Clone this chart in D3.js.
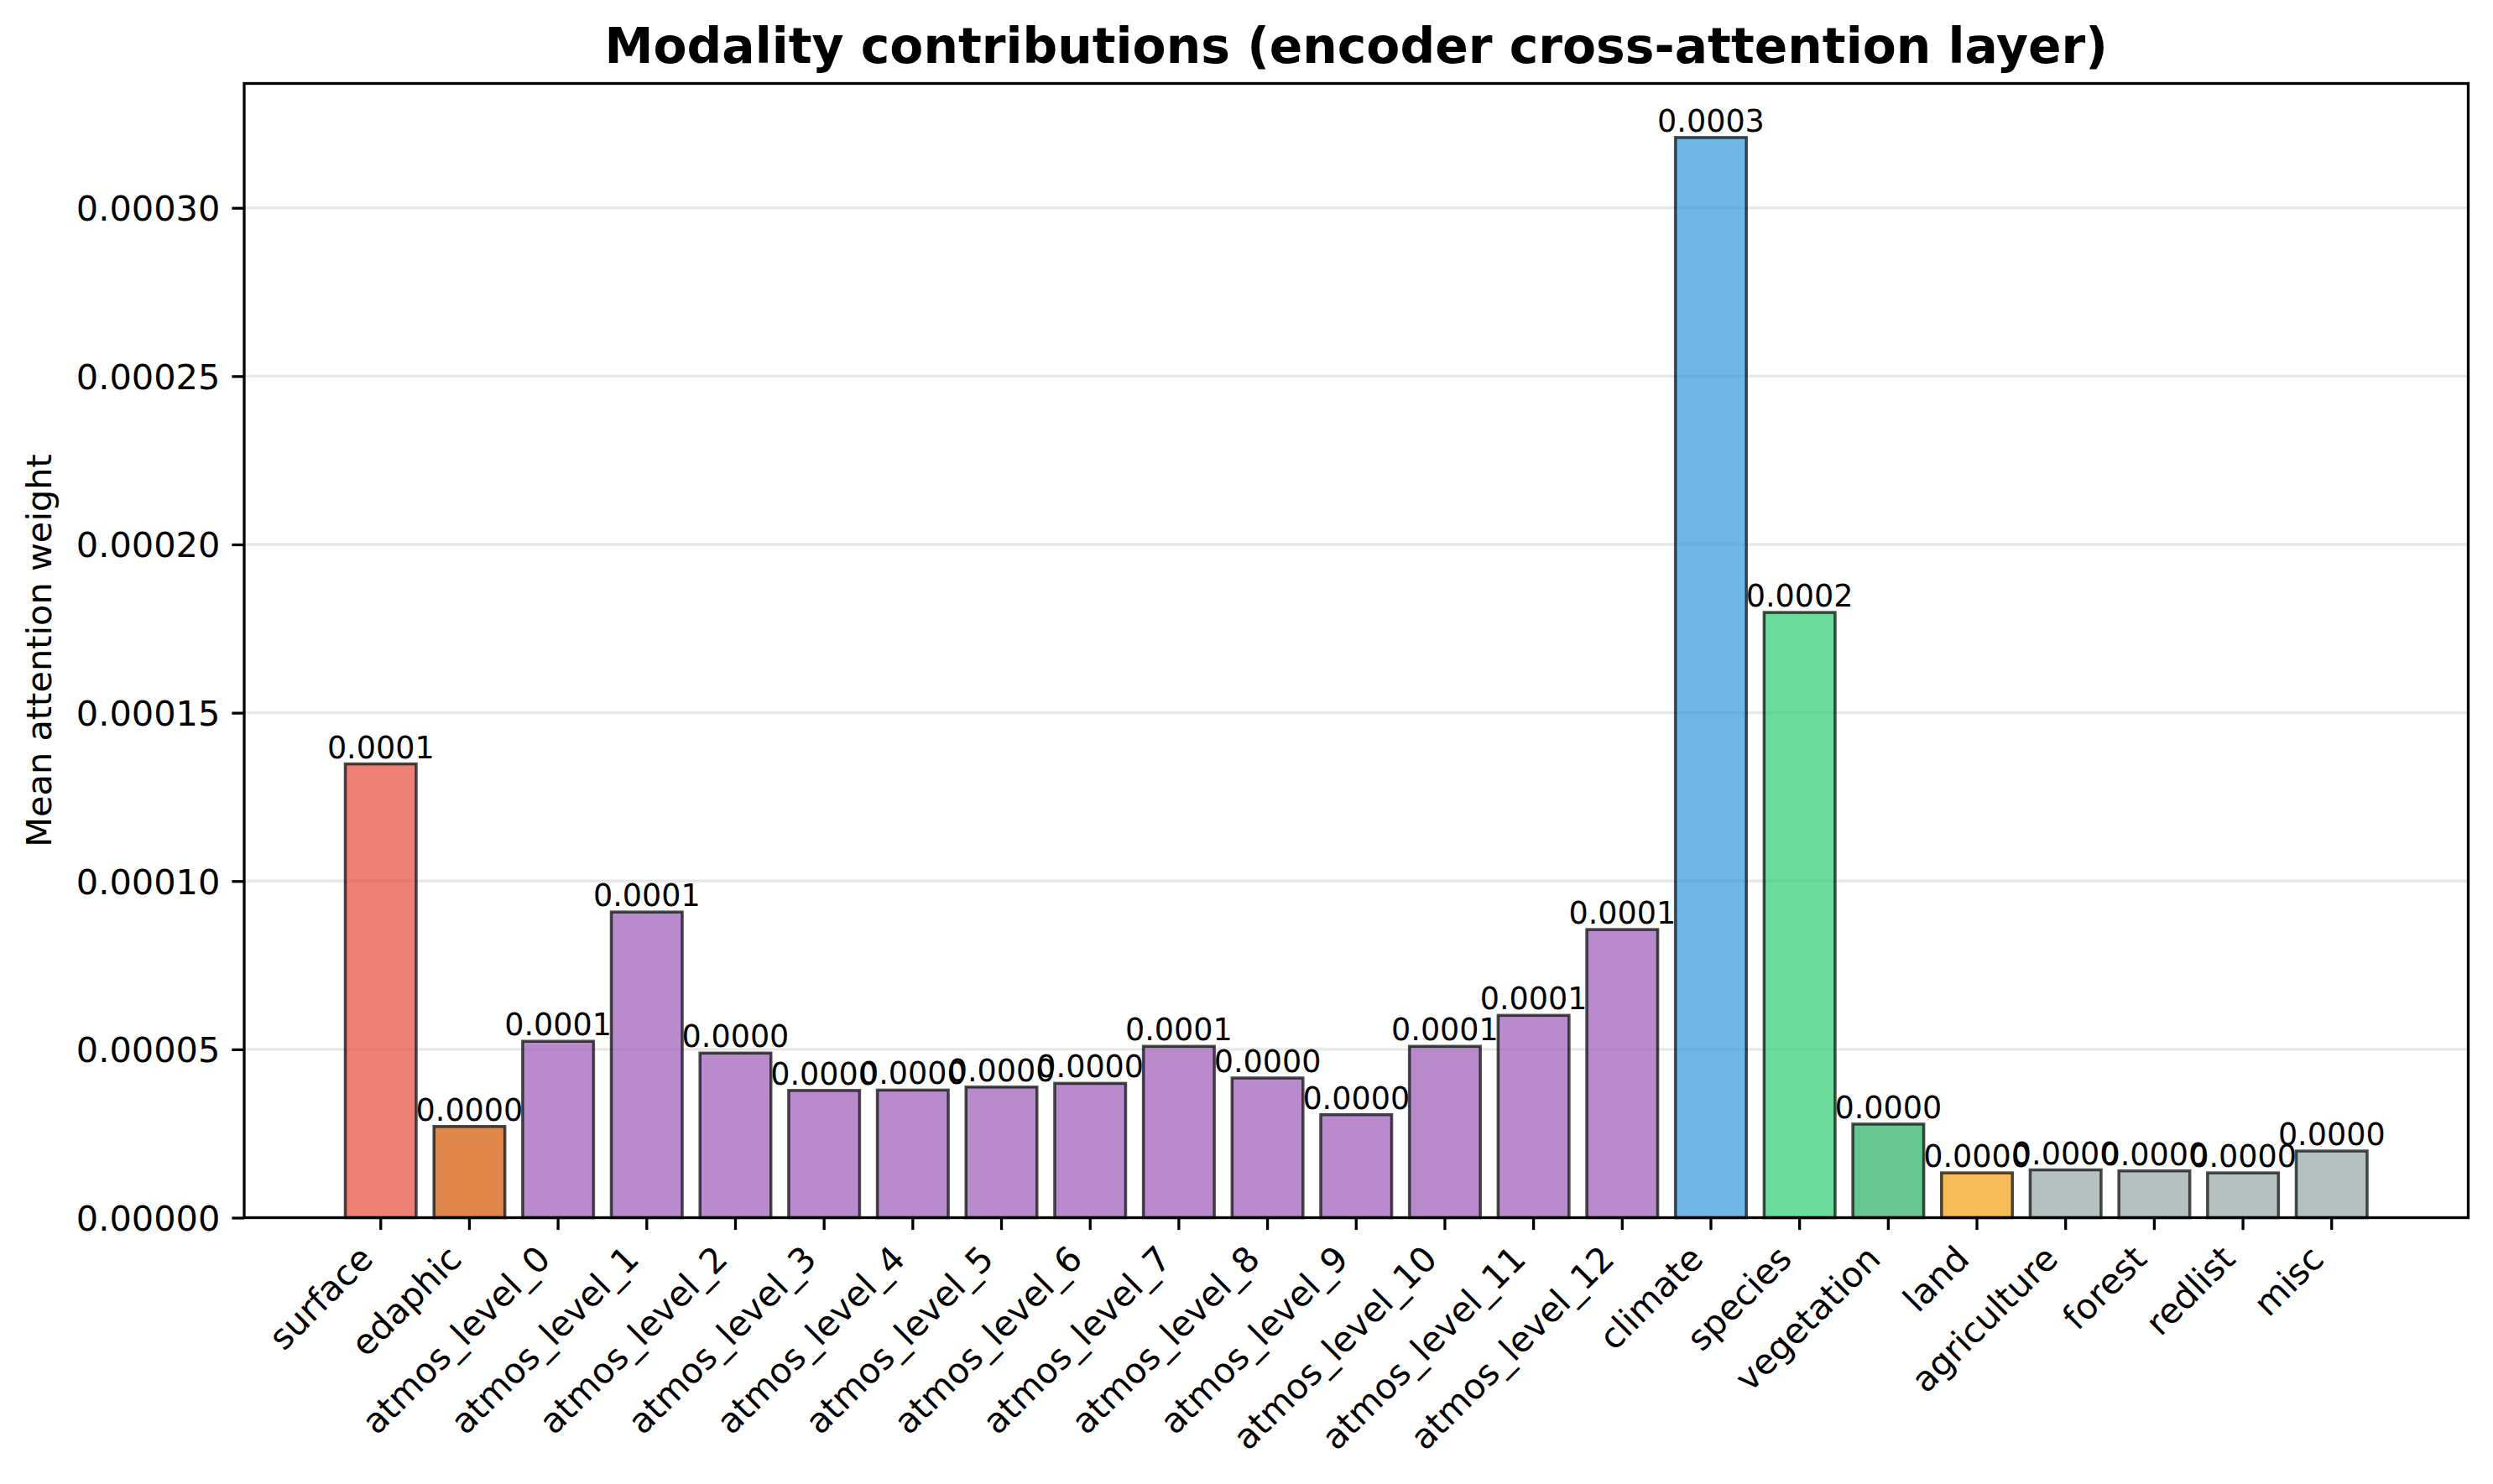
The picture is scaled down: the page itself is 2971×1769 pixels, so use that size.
<!DOCTYPE html>
<html>
<head>
<meta charset="utf-8">
<script src="https://cdn.jsdelivr.net/npm/d3@7"></script>
<style>
  body { margin: 0; background: #fff; }
  text { font-family: "DejaVu Sans", sans-serif; }
</style>
</head>
<body>
<div id="chart"></div>
<script>
// data
var modalities = ['surface', 'edaphic', 'atmos_level_0', 'atmos_level_1', 'atmos_level_2',
    'atmos_level_3', 'atmos_level_4', 'atmos_level_5', 'atmos_level_6', 'atmos_level_7',
    'atmos_level_8', 'atmos_level_9', 'atmos_level_10', 'atmos_level_11', 'atmos_level_12',
    'climate', 'species', 'vegetation', 'land', 'agriculture', 'forest', 'redlist', 'misc'];

var weights = [0.0001348, 0.0000271, 0.0000524, 0.0000908, 0.0000489,
    0.0000378, 0.0000379, 0.0000388, 0.0000399, 0.0000509,
    0.0000415, 0.0000306, 0.0000509, 0.0000601, 0.0000856,
    0.0003209, 0.0001798, 0.0000278, 0.0000133, 0.0000142, 0.0000139, 0.0000133, 0.0000198];

var groups = ['surface', 'edaphic', 'atmos', 'atmos', 'atmos',
    'atmos', 'atmos', 'atmos', 'atmos', 'atmos',
    'atmos', 'atmos', 'atmos', 'atmos', 'atmos',
    'climate', 'species', 'vegetation', 'land', 'other', 'other', 'other', 'other'];

var yTicks = [0, 0.00005, 0.0001, 0.00015, 0.0002, 0.00025, 0.0003];

const groupColor = {
    'surface': '#e74c3c',
    'edaphic': '#d35400',
    'atmos': '#9b59b6',
    'climate': '#3498db',
    'species': '#2ecc71',
    'vegetation': '#27ae60',
    'land': '#f39c12',
    'other': '#95a5a6'
}

var W = 2971, H = 1769;
var margin = { top: 99.5, right: 29.5, bottom: 317.5, left: 291 },
    width = W - margin.left - margin.right,
    height = H - margin.top - margin.bottom;

var svg = d3.select('#chart').append('svg')
    .attr("width", W)
    .attr("height", H);

var g = svg.append("g")
    .attr("transform", "translate(" + margin.left + "," + margin.top + ")");

// matplotlib style x limits: bar width 0.8 plus 5% margins
var n = modalities.length;
var span = (n - 1) + 0.8;
var xScale = d3.scaleLinear()
    .domain([-0.4 - span * 0.05, n - 1 + 0.4 + span * 0.05])
    .range([0, width]);

var yScale = d3.scaleLinear()
    .domain([0, d3.max(weights) * 1.05])
    .range([height, 0]);

// grid
g.append("g")
    .selectAll("line")
    .data(yTicks.slice(1))
    .enter().append("line")
    .attr("x1", 0)
    .attr("x2", width)
    .attr("y1", function (d) { return yScale(d); })
    .attr("y2", function (d) { return yScale(d); })
    .attr("stroke", "#e7e7e7")
    .attr("stroke-width", 3.3);

// bars
g.selectAll("rect.bar")
    .data(weights)
    .enter().append("rect")
    .attr("class", "bar")
    .attr("x", function (d, i) { return xScale(i - 0.4); })
    .attr("width", function (d, i) { return xScale(i + 0.4) - xScale(i - 0.4); })
    .attr("y", function (d) { return yScale(d); })
    .attr("height", function (d) { return height - yScale(d); })
    .attr("fill", function (d, i) { return groupColor[groups[i]]; })
    .attr("fill-opacity", 0.7)
    .attr("stroke", "#000")
    .attr("stroke-opacity", 0.7)
    .attr("stroke-width", 3.5);

// value labels
var fmt = d3.format(".4f");
g.selectAll("text.val")
    .data(weights)
    .enter().append("text")
    .attr("class", "val")
    .attr("x", function (d, i) { return xScale(i); })
    .attr("y", function (d) { return yScale(d) - 7; })
    .attr("text-anchor", "middle")
    .style("font-size", "36.5px")
    .text(function (d) { return fmt(d); });

// y axis
var yAxis = g.append("g")
    .call(d3.axisLeft(yScale)
        .tickValues(yTicks)
        .tickFormat(d3.format(".5f"))
        .tickSize(14.6)
        .tickPadding(14));
yAxis.select(".domain").remove();
yAxis.selectAll(".tick line").attr("stroke-width", 3.3);
yAxis.selectAll(".tick text")
    .style("font-size", "41.5px")
    .attr("dy", "0.36em");

// x axis ticks and rotated labels
var xAxis = g.append("g")
    .attr("transform", "translate(0," + height + ")");

xAxis.selectAll("line")
    .data(modalities)
    .enter().append("line")
    .attr("x1", function (d, i) { return xScale(i); })
    .attr("x2", function (d, i) { return xScale(i); })
    .attr("y1", 0)
    .attr("y2", 14.6)
    .attr("stroke", "#000")
    .attr("stroke-width", 3.3);

xAxis.selectAll("text")
    .data(modalities)
    .enter().append("text")
    .attr("text-anchor", "end")
    .attr("transform", function (d, i) {
        return "translate(" + (xScale(i) - 7) + "," + 51.5 + ") rotate(-45)";
    })
    .style("font-size", "41.5px")
    .text(function (d) { return d; });

// frame
g.append("rect")
    .attr("width", width)
    .attr("height", height)
    .attr("fill", "none")
    .attr("stroke", "#000")
    .attr("stroke-width", 3.3);

// y label
svg.append("text")
    .attr("transform", "translate(61," + (margin.top + height / 2) + ") rotate(-90)")
    .attr("text-anchor", "middle")
    .style("font-size", "41.5px")
    .text("Mean attention weight");

// Title
svg.append("text")
    .attr("x", margin.left + width / 2)
    .attr("y", 75)
    .attr("text-anchor", "middle")
    .style("font-size", "58.3px")
    .style("font-weight", "bold")
    .text("Modality contributions (encoder cross-attention layer)");
</script>
</body>
</html>
